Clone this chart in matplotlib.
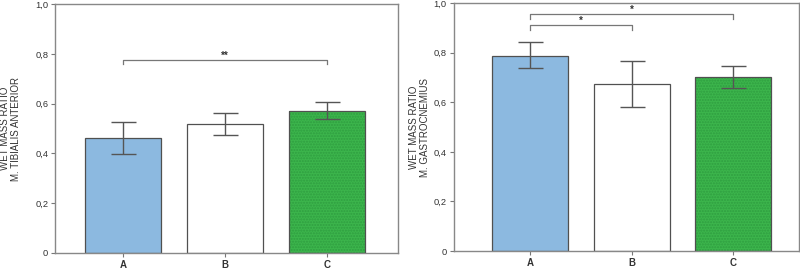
import matplotlib
matplotlib.use("Agg")
import matplotlib.pyplot as plt

plt.rcParams["font.family"] = ["Liberation Sans", "DejaVu Sans"]

groups = ["A", "B", "C"]
ta_mean = [0.461, 0.517, 0.572]
ta_err_hi = [0.525, 0.562, 0.607]
ta_err_lo = [0.397, 0.475, 0.539]
gc_mean = [0.788, 0.675, 0.701]
gc_err_hi = [0.844, 0.768, 0.747]
gc_err_lo = [0.736, 0.582, 0.657]
yticks = [0, 0.2, 0.4, 0.6, 0.8, 1.0]
ytick_labels = ["0", "0,2", "0,4", "0,6", "0,8", "1,0"]

BLUE, WHITE, GREEN = "#8cb9e0", "#ffffff", "#3cb54c"
EDGE = "#505050"

fig = plt.figure(figsize=(8, 2.7), dpi=100)
ax1 = fig.add_axes([0.069, 0.063, 0.429, 0.922])
ax2 = fig.add_axes([0.567, 0.07, 0.432, 0.919])


def panel(ax, means, hi, lo, ylabel, xlim, label_x):
    x = range(len(groups))
    cols = [BLUE, WHITE, GREEN]
    for i in x:
        if cols[i] == GREEN:
            ax.bar(i, means[i], 0.75, color=GREEN, edgecolor="#2f9e40",
                   hatch="......", linewidth=0, zorder=2)
            ax.bar(i, means[i], 0.75, color="none", edgecolor=EDGE,
                   linewidth=0.9, zorder=3)
        else:
            ax.bar(i, means[i], 0.75, color=cols[i], edgecolor=EDGE,
                   linewidth=0.9, zorder=2)
    err = [[m - l for m, l in zip(means, lo)], [h - m for m, h in zip(means, hi)]]
    ax.errorbar(list(x), means, yerr=err, fmt="none", ecolor="#555555",
                elinewidth=1.0, capsize=9, capthick=1.0, zorder=4)
    ax.set_ylim(0, 1.0)
    ax.set_xlim(*xlim)
    ax.set_yticks(yticks)
    ax.set_yticklabels(ytick_labels, fontsize=6.7, color="#333")
    ax.set_xticks(list(x))
    ax.set_xticklabels(groups, fontsize=7, fontweight="bold", color="#333")
    ax.tick_params(length=3, width=0.8, color="#777", pad=2)
    for s in ax.spines.values():
        s.set_color("#888")
        s.set_linewidth(1.0)
    ax.set_ylabel(ylabel, fontsize=7, color="#333", linespacing=1.15,
                  ha="center", va="center")
    ax.yaxis.set_label_coords(label_x, 0.5)


def bracket(ax, x1, x2, y, drop, label):
    ax.plot([x1, x1, x2, x2], [y - drop, y, y, y - drop], color="#777", lw=0.9)
    ax.text((x1 + x2) / 2, y + 0.004, label, ha="center", va="baseline",
            fontsize=7, fontweight="bold", color="#333")


panel(ax1, ta_mean, ta_err_hi, ta_err_lo,
      "WET MASS RATIO\nM. TIBIALIS ANTERIOR", (-0.667, 2.70), -0.13)
bracket(ax1, 0, 2, 0.776, 0.016, "**")

panel(ax2, gc_mean, gc_err_hi, gc_err_lo,
      "WET MASS RATIO\nM. GASTROCNEMIUS", (-0.754, 2.65), -0.098)
bracket(ax2, 0, 2, 0.956, 0.019, "*")
bracket(ax2, 0, 1, 0.912, 0.02, "*")

fig.savefig("out.png", dpi=100)
